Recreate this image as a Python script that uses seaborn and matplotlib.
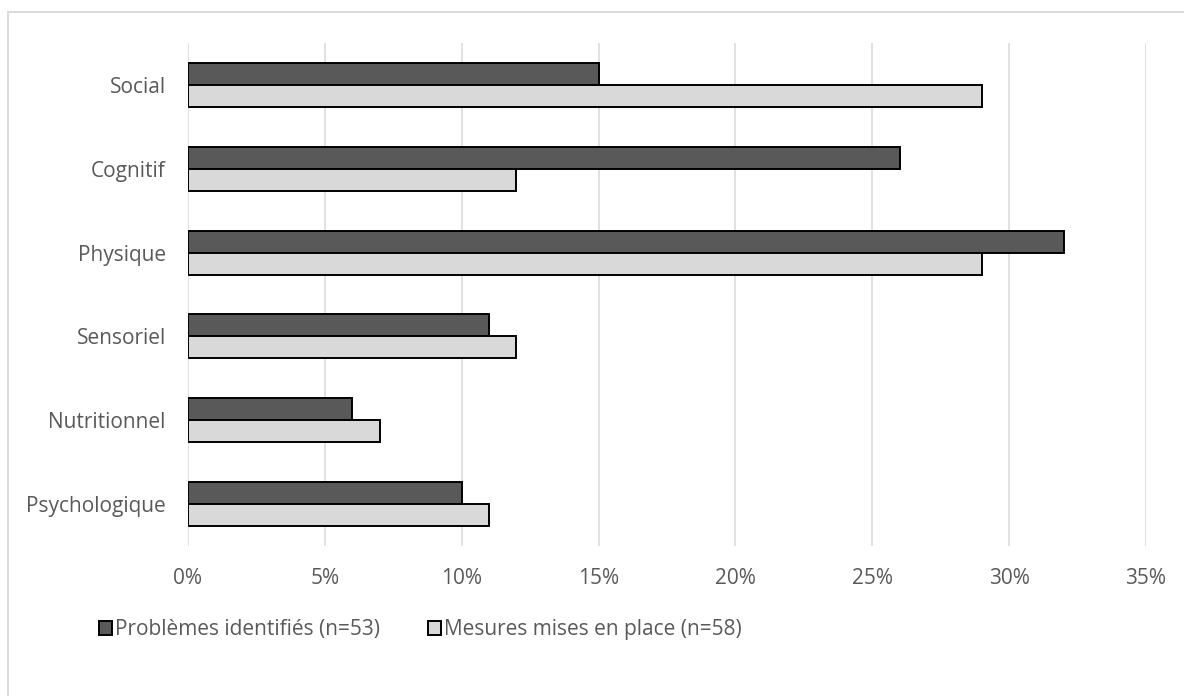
import matplotlib
matplotlib.use("Agg")
import matplotlib.pyplot as plt
from matplotlib.patches import Rectangle
from matplotlib.ticker import FuncFormatter, MultipleLocator
import seaborn as sns
import pandas as pd

categories = ["Social", "Cognitif", "Physique", "Sensoriel", "Nutritionnel", "Psychologique"]
problemes = [15, 26, 32, 11, 6, 10]
mesures = [29, 12, 29, 12, 7, 11]
series_names = ["Problèmes identifiés (n=53)", "Mesures mises en place (n=58)"]
colors = ["#595959", "#D9D9D9"]

df = pd.DataFrame({
    "categorie": categories * 2,
    "valeur": problemes + mesures,
    "serie": [series_names[0]] * len(categories) + [series_names[1]] * len(categories),
})

sns.set_theme(style="white")
plt.rcParams["font.family"] = ["Open Sans", "DejaVu Sans"]
text_color = "#595959"
fs = 15

fig = plt.figure(figsize=(11.84, 6.96), dpi=100)
ax = fig.add_axes([188 / 1184, 1 - 546 / 696, (1146 - 188) / 1184, (546 - 43) / 696])

sns.barplot(data=df, y="categorie", x="valeur", hue="serie", order=categories,
            hue_order=series_names, palette=colors, orient="h", width=0.525,
            edgecolor="black", linewidth=1.4, ax=ax, legend=True, zorder=3)

ax.set_xlim(0, 35)
ax.xaxis.set_major_locator(MultipleLocator(5))
ax.xaxis.set_major_formatter(FuncFormatter(lambda v, p: f"{v:.0f}%"))
ax.grid(axis="x", color="#D9D9D9", linewidth=1.1, zorder=0)
ax.set_axisbelow(True)
for s in ax.spines.values():
    s.set_visible(False)
ax.set_xlabel("")
ax.set_ylabel("")
ax.tick_params(axis="both", length=0, labelsize=fs, colors=text_color)
ax.tick_params(axis="x", pad=16)
ax.tick_params(axis="y", pad=16)

handles, labels = ax.get_legend_handles_labels()
ax.legend_.remove()
fig.legend(handles, labels, loc="center left", bbox_to_anchor=(80 / 1184, 1 - 630 / 696),
           ncol=2, frameon=False, handlelength=0.62, handleheight=0.62, handletextpad=0.15,
           columnspacing=2.3, fontsize=fs, labelcolor=text_color)

# chart-area frame: only the top and left edges fall inside the canvas
fig.patches.append(Rectangle((7.5 / 1184, -0.05), 1.1, 1.05 - 12.5 / 696,
                             transform=fig.transFigure, fill=False,
                             edgecolor="#D9D9D9", linewidth=1.3, zorder=0))

fig.savefig("out.png", dpi=100, facecolor="white")
